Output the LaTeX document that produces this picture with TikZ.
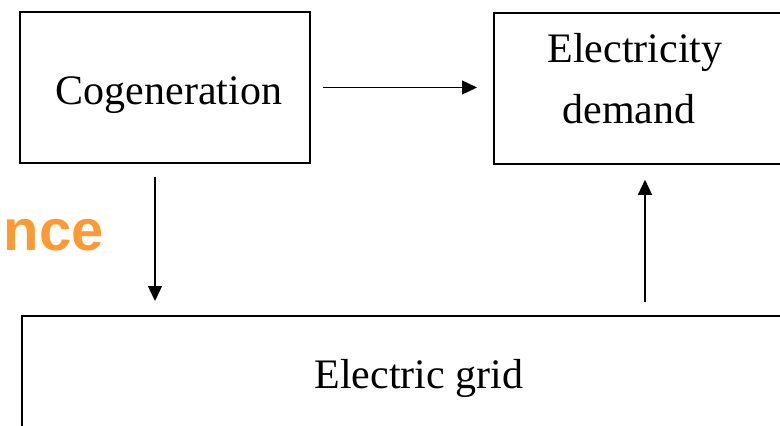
\documentclass[tikz,border=0pt]{standalone}
\usepackage{fontspec}
\setmainfont{Liberation Serif}
\newfontfamily\orangefont{Liberation Sans}
\usetikzlibrary{arrows.meta}
\definecolor{orng}{RGB}{255,153,51}
\begin{document}
\begin{tikzpicture}[x=1pt,y=-1pt,
  box/.style={draw=black,line width=1.8pt,inner sep=0pt},
  lbl/.style={inner sep=0pt,font=\fontsize{42}{50}\selectfont},
  arr/.style={line width=1.4pt,-{Triangle[length=15pt,width=14pt]}}]
\useasboundingbox (0,0) rectangle (780,426);
\clip (0,0) rectangle (780,426);
\node[box,minimum width=290pt,minimum height=151pt] (cog) at (165,87.5) {};
\node[lbl,anchor=base] (cogt) at (169,104) {Cogeneration};
\node[box,minimum width=300pt,minimum height=151pt,anchor=north west] (demand) at (493,12) {};
\node[lbl,anchor=base] (dem1) at (635,62) {Electricity};
\node[lbl,anchor=base] (dem2) at (629,123) {demand};
\node[box,minimum width=780pt,minimum height=140pt,anchor=north west] (grid) at (21,315) {};
\node[lbl,anchor=base] (gridt) at (419,388) {Electric grid};
\node[inner sep=0pt,anchor=base east,text=orng,font=\orangefont\bfseries\fontsize{58}{62}\selectfont] (perf) at (104,250) {nce};
\draw[arr,shorten <=12pt,shorten >=16pt] (cog.east) -- (demand.west |- cog.east);
\draw[arr,shorten <=13pt,shorten >=14pt] ([xshift=-10pt]cog.south) -- ([xshift=-10pt]cog.south |- grid.north);
\coordinate (up) at (645,315);
\draw[arr,shorten <=13pt,shorten >=15pt] (up) -- (up |- demand.south);
\end{tikzpicture}
\end{document}
